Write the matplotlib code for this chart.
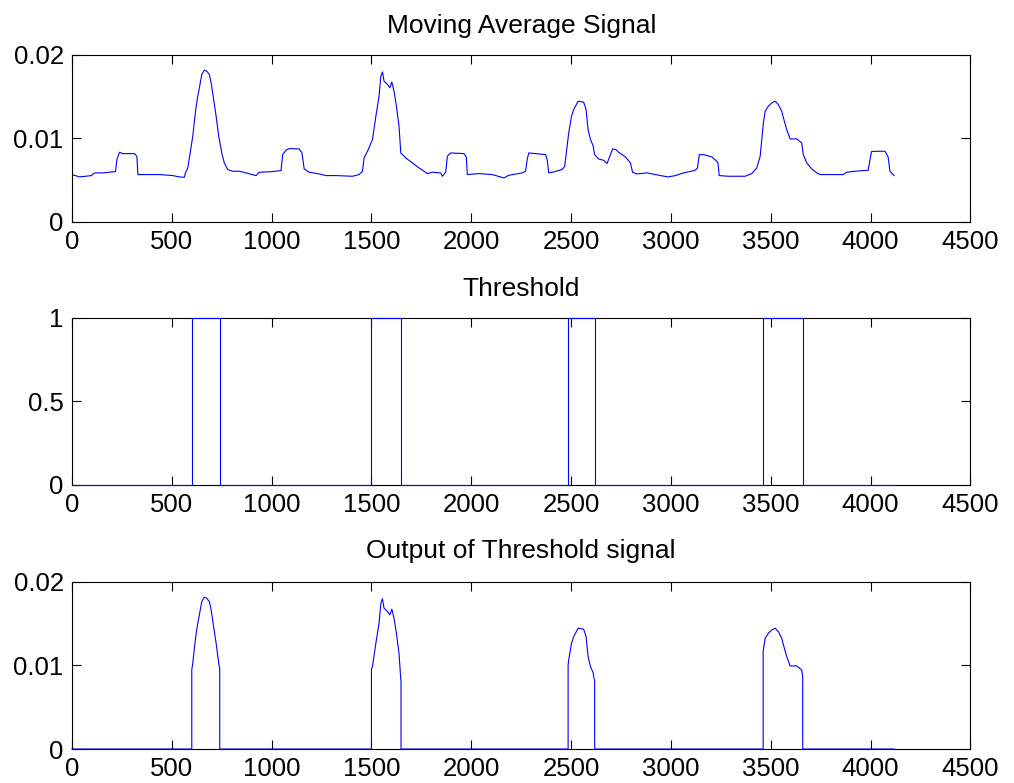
import numpy as np
import matplotlib
matplotlib.use('Agg')
import matplotlib.pyplot as plt

# moving average signal
sig_x = [0, 38, 97, 113, 155, 218, 225, 238, 255, 313, 325, 330, 438, 505, 538, 563, 568, 580,
         592, 605, 613, 622, 630, 638, 650, 663, 675, 688, 697, 708, 722, 735, 752, 763, 780, 805,
         838, 872, 922, 938, 1005, 1047, 1055, 1072, 1088, 1138, 1152, 1163, 1188, 1238, 1272,
         1322, 1405, 1438, 1455, 1463, 1480, 1505, 1522, 1538, 1547, 1555, 1563, 1580, 1592,
         1602, 1613, 1625, 1638, 1647, 1672, 1705, 1738, 1780, 1805, 1847, 1855, 1872, 1880,
         1897, 1963, 1975, 1980, 2038, 2105, 2163, 2188, 2255, 2272, 2280, 2288, 2322, 2372,
         2380, 2388, 2413, 2455, 2468, 2480, 2488, 2502, 2513, 2522, 2535, 2563, 2575, 2585,
         2597, 2610, 2618, 2638, 2663, 2680, 2697, 2708, 2725, 2738, 2772, 2797, 2808, 2830,
         2880, 2922, 2985, 3022, 3063, 3122, 3133, 3142, 3163, 3205, 3235, 3242, 3288, 3372,
         3405, 3430, 3447, 3455, 3463, 3472, 3488, 3505, 3522, 3538, 3555, 3568, 3580, 3597,
         3630, 3655, 3663, 3680, 3705, 3730, 3747, 3805, 3863, 3880, 3922, 3988, 3997, 4005,
         4030, 4072, 4088, 4097, 4118]
sig_y = [0.00567, 0.00539, 0.00555, 0.00587, 0.00587, 0.00603, 0.00747, 0.00834, 0.00818,
         0.00818, 0.00786, 0.00567, 0.00567, 0.00555, 0.00539, 0.00535, 0.00587, 0.00647,
         0.00826, 0.01026, 0.01206, 0.01385, 0.01505, 0.01605, 0.01764, 0.01816, 0.01804,
         0.01764, 0.01665, 0.01485, 0.01265, 0.01026, 0.00806, 0.00707, 0.00627, 0.00607,
         0.00607, 0.00587, 0.00555, 0.00595, 0.00603, 0.00615, 0.00806, 0.00858, 0.00878,
         0.00874, 0.00826, 0.00635, 0.00595, 0.00575, 0.00555, 0.00555, 0.00547, 0.00567,
         0.00607, 0.00766, 0.00846, 0.00986, 0.01265, 0.01505, 0.01744, 0.01796, 0.01685,
         0.01645, 0.01605, 0.01673, 0.01565, 0.01385, 0.01146, 0.00826, 0.00766, 0.00707,
         0.00647, 0.00579, 0.00595, 0.00587, 0.00547, 0.00595, 0.00786, 0.00826, 0.00818,
         0.00778, 0.00567, 0.00579, 0.00567, 0.00527, 0.00559, 0.00587, 0.00607, 0.00747,
         0.00826, 0.00818, 0.00806, 0.00747, 0.00587, 0.00599, 0.00627, 0.00667, 0.00906,
         0.01066, 0.01265, 0.01345, 0.01385, 0.01445, 0.01433, 0.01345, 0.01106, 0.00986,
         0.00914, 0.00806, 0.00754, 0.00738, 0.00699, 0.00806, 0.00874, 0.00866, 0.00834,
         0.00778, 0.00707, 0.00595, 0.00575, 0.00587, 0.00567, 0.00539, 0.00555, 0.00587,
         0.00619, 0.00647, 0.00806, 0.00806, 0.00778, 0.00715, 0.00555, 0.00547, 0.00547,
         0.00579, 0.00647, 0.00786, 0.00986, 0.01186, 0.01325, 0.01385, 0.01425, 0.01445,
         0.01405, 0.01325, 0.01206, 0.01106, 0.00994, 0.00994, 0.00946, 0.00806, 0.00707,
         0.00635, 0.00587, 0.00567, 0.00567, 0.00567, 0.00595, 0.00607, 0.00619, 0.00747,
         0.00842, 0.00846, 0.00846, 0.00778, 0.00607, 0.00555]

# threshold windows (start, end) where threshold = 1
win_start = [600, 1500, 2485, 3462]
win_end = [740, 1648, 2618, 3660]
sig_end = 4118

sig_x = np.array(sig_x, dtype=float)
sig_y = np.array(sig_y)

# threshold trace
th_x, th_y = [0], [0]
for a, b in zip(win_start, win_end):
    th_x += [a, a, b, b]
    th_y += [0, 1, 1, 0]
th_x.append(sig_end)
th_y.append(0)

# output = signal gated by threshold
out_x, out_y = [0], [0]
for a, b in zip(win_start, win_end):
    ya = np.interp(a, sig_x, sig_y)
    yb = np.interp(b, sig_x, sig_y)
    inside = (sig_x > a) & (sig_x < b)
    out_x += [a, a] + sig_x[inside].tolist() + [b, b]
    out_y += [0, ya] + sig_y[inside].tolist() + [yb, 0]
out_x.append(sig_end)
out_y.append(0)

plt.rcParams['font.family'] = ['Liberation Sans', 'DejaVu Sans']
plt.rcParams['font.size'] = 18.5

fig = plt.figure(figsize=(10.14, 7.83), dpi=100)
left, width = 0.071, 0.886
ax1 = fig.add_axes([left, 0.7165, width, 0.2135])
ax2 = fig.add_axes([left, 0.381, width, 0.213])
ax3 = fig.add_axes([left, 0.0434, width, 0.2135])

ax1.plot(sig_x, sig_y, color='#0000ff', lw=0.8)
ax2.plot(th_x, th_y, color='#0000ff', lw=0.8, clip_on=False, zorder=3)
ax3.plot(out_x, out_y, color='#0000ff', lw=0.8, clip_on=False, zorder=3)

for ax, title, pad in [(ax1, 'Moving Average Signal', 16), (ax2, 'Threshold', 15.5),
                       (ax3, 'Output of Threshold signal', 17)]:
    ax.set_xlim(0, 4500)
    ax.set_xticks(np.arange(0, 4501, 500))
    ax.tick_params(direction='in', top=True, right=True, length=6.5, width=0.8)
    ax.tick_params(axis='x', pad=6)
    ax.tick_params(axis='y', pad=6)
    ax.set_title(title, fontsize=19, pad=pad)
    for s in ax.spines.values():
        s.set_linewidth(0.8)

for ax in (ax1, ax3):
    ax.set_ylim(0, 0.02)
    ax.set_yticks([0, 0.01, 0.02])
    ax.set_yticklabels(['0', '0.01', '0.02'])
ax2.set_ylim(0, 1)
ax2.set_yticks([0, 0.5, 1])
ax2.set_yticklabels(['0', '0.5', '1'])

fig.savefig('out.png', dpi=100)
